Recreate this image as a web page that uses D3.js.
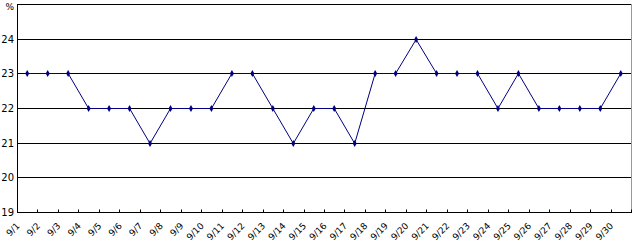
<!DOCTYPE html>
<html>
<head>
<meta charset="utf-8">
<script src="https://cdn.jsdelivr.net/npm/d3@7"></script>
<style>
  body { margin: 0; background: #fff; }
  text { font-family: "DejaVu Sans", sans-serif; }
</style>
</head>
<body>
<svg id="chart" width="635" height="245"></svg>
<script>
const days = ["9/1","9/2","9/3","9/4","9/5","9/6","9/7","9/8","9/9","9/10",
  "9/11","9/12","9/13","9/14","9/15","9/16","9/17","9/18","9/19","9/20",
  "9/21","9/22","9/23","9/24","9/25","9/26","9/27","9/28","9/29","9/30"];
const values = [23,23,23,22,22,22,21,22,22,22,
  23,23,22,21,22,22,21,23,23,24,
  23,23,23,22,23,22,22,22,22,23];
const yTicks = [19,20,21,22,23,24];
const unit = "%";

const svg = d3.select('#chart');
const plotLeft = 17, plotRight = 631, plotTop = 4, plotBottom = 212;

const x = d3.scaleBand().domain(days).range([plotLeft, plotRight]);
const y = d3.scaleLinear().domain([19, 25]).range([plotBottom, plotTop]);

// gridlines
svg.selectAll('line.grid').data(yTicks.slice(1).concat([25])).enter().append('line')
  .attr('class', 'grid')
  .attr('x1', plotLeft).attr('x2', plotRight)
  .attr('y1', d => Math.round(y(d)) + 0.5).attr('y2', d => Math.round(y(d)) + 0.5)
  .attr('stroke', '#000').attr('stroke-width', 1);

// right border
svg.append('line')
  .attr('x1', plotRight + 0.5).attr('x2', plotRight + 0.5)
  .attr('y1', plotTop).attr('y2', plotBottom)
  .attr('stroke', '#999');

// left axis
svg.append('line')
  .attr('x1', plotLeft + 0.5).attr('x2', plotLeft + 0.5)
  .attr('y1', plotTop).attr('y2', plotBottom + 1)
  .attr('stroke', '#000');

// bottom axis with ticks between bands
const xAxis = svg.append('g').attr('transform', 'translate(0,' + (Math.round(y(19)) + 0.5) + ')');
xAxis.append('line').attr('x1', plotLeft).attr('x2', plotRight + 1).attr('stroke', '#000');
xAxis.selectAll('line.tick').data(days).enter().append('line')
  .attr('class', 'tick')
  .attr('x1', d => Math.round(x(d) + x.bandwidth()) + 0.5)
  .attr('x2', d => Math.round(x(d) + x.bandwidth()) + 0.5)
  .attr('y1', -3).attr('y2', 0)
  .attr('stroke', '#000');

xAxis.selectAll('text').data(days).enter().append('text')
  .text(d => d)
  .style('font-size', '9px')
  .style('text-anchor', 'end')
  .attr('transform', d => 'translate(' + (x(d) + x.bandwidth() / 2 - 7) + ',14) rotate(-45)');

// y labels
svg.selectAll('text.ylab').data(yTicks).enter().append('text')
  .attr('class', 'ylab')
  .text(d => d)
  .style('font-size', '10px')
  .style('text-anchor', 'end')
  .attr('x', 14)
  .attr('y', d => y(d) + 4);

svg.append('text').text(unit)
  .style('font-size', '9px')
  .style('text-anchor', 'end')
  .attr('x', 14).attr('y', 10);

// line
const line = d3.line()
  .x((d, i) => x(days[i]) + x.bandwidth() / 2)
  .y(d => Math.round(y(d)) + 0.5);

svg.append('path').datum(values)
  .attr('d', line)
  .attr('fill', 'none')
  .attr('stroke', '#000080')
  .attr('stroke-width', 1);

svg.selectAll('path.pt').data(values).enter().append('path')
  .attr('class', 'pt')
  .attr('d', d3.symbol().type(d3.symbolDiamond).size(14))
  .attr('transform', (d, i) => 'translate(' + (x(days[i]) + x.bandwidth() / 2) + ',' + (Math.round(y(d)) + 0.5) + ')')
  .attr('fill', '#000080');
</script>
</body>
</html>
